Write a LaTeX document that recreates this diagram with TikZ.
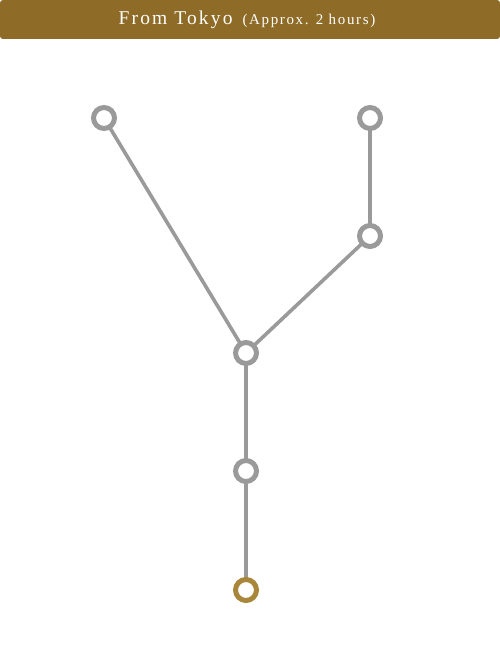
\documentclass[tikz,border=0pt]{standalone}
\usepackage{fontspec}
\setmainfont{Liberation Serif}
\newfontfamily\ttlfont[LetterSpace=11]{Liberation Serif}
\newfontfamily\subfont[LetterSpace=11]{Liberation Serif}
\definecolor{bar}{HTML}{8E6B27}
\definecolor{ln}{HTML}{9A9A9A}
\definecolor{gold}{HTML}{A8863A}
\begin{document}
\begin{tikzpicture}[x=1pt,y=-1pt,
  stn/.style={circle,draw=ln,line width=5pt,fill=white,minimum size=21pt,inner sep=0pt},
  gstn/.style={stn,draw=gold},
  link/.style={draw=ln,line width=3.6pt}]
\useasboundingbox (0,0) rectangle (500,666);
\fill[bar,rounded corners=3pt] (0,0) rectangle (500,39);
\node[text=white,anchor=center,inner sep=0pt] (title) at (247,20) {\ttlfont\fontsize{19.5}{22}\selectfont From Tokyo\hspace{10pt}\subfont\fontsize{15}{18}\selectfont (Approx. 2 hours)};
\coordinate (pa) at (104,118);
\coordinate (pb) at (370,118);
\coordinate (pc) at (370,236);
\coordinate (pd) at (246,353);
\coordinate (pe) at (246,471);
\coordinate (pf) at (246,590);
\draw[link] (pa) -- (pd);
\draw[link] (pb) -- (pc);
\draw[link] (pc) -- (pd);
\draw[link] (pd) -- (pe);
\draw[link] (pe) -- (pf);
\node[stn] (a) at (pa) {};
\node[stn] (b) at (pb) {};
\node[stn] (c) at (pc) {};
\node[stn] (d) at (pd) {};
\node[stn] (e) at (pe) {};
\node[gstn] (f) at (pf) {};
\end{tikzpicture}
\end{document}
